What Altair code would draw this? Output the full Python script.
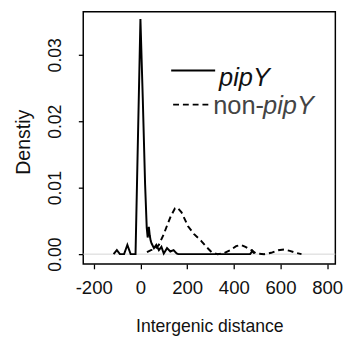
import altair as alt
import pandas as pd

# pipY density curve (solid)
pip_x = [-115, -101, -88, -70, -56, -42, -21, 0, 10, 20, 27, 31, 36, 40, 44, 48, 58, 68,
         79, 90, 100, 114, 128, 142, 155, 162, 470, 480, 487]
pip_y = [0.0, 0.0006, 0.0, 0.0, 0.0014, 0.0, 0.0, 0.0354, 0.0235, 0.0105, 0.0040, 0.0025,
         0.0041, 0.0028, 0.0020, 0.0016, 0.0009, 0.0014, 0.0006, 0.0011, 0.0001, 0.0009,
         0.0004, 0.0006, 0.0001, 0.0, 0.0, 0.0005, 0.0001]

# non-pipY density curve (dashed)
non_x = [28, 45, 60, 79, 100, 114, 130, 148, 158, 176, 204, 230, 260, 285, 305, 330, 355,
         385, 410, 430, 450, 475, 495, 530, 560, 590, 615, 640, 665, 690]
non_y = [0.0003, 0.0006, 0.0007, 0.0014, 0.0030, 0.0043, 0.0057, 0.0069, 0.0070, 0.0063,
         0.0042, 0.0030, 0.0020, 0.0010, 0.0003, 0.0, 0.0001, 0.0006, 0.0012, 0.0014,
         0.0011, 0.0006, 0.0001, 0.0, 0.0002, 0.0006, 0.0007, 0.0005, 0.0002, 0.0]

x_ticks = [-200, 0, 200, 400, 600, 800]
y_ticks = [0.0, 0.01, 0.02, 0.03]

FONT = "Liberation Sans"

pip_df = pd.DataFrame({"x": pip_x, "y": pip_y, "i": range(len(pip_x))})
non_df = pd.DataFrame({"x": non_x, "y": non_y, "i": range(len(non_x))})

xs = alt.Scale(domain=[-245, 835], nice=False, zero=False)
ys = alt.Scale(domain=[-0.00147, 0.03647], nice=False, zero=False)

x_axis = alt.Axis(values=x_ticks, labelExpr="'' + datum.value", title="Intergenic distance",
                  labelFontSize=19, titleFontSize=18, titleFontWeight="normal",
                  tickSize=5, tickColor="black", tickWidth=1.3, domain=False, grid=False,
                  labelPadding=10, labelColor="#111", titleColor="#111",
                  titleY=69, titleBaseline="alphabetic", labelFont=FONT, titleFont=FONT)
y_axis = alt.Axis(values=y_ticks, format=".2f", title="Denstiy",
                  labelFontSize=18, titleFontSize=20, titleFontWeight="normal",
                  tickSize=5, tickColor="black", tickWidth=1.3, domain=False, grid=False,
                  labelAngle=270, labelAlign="center", labelBaseline="bottom",
                  labelPadding=14, labelColor="#111", titleColor="#111",
                  titleX=-55, titleY=133, titleAngle=270, titleAlign="center",
                  titleBaseline="alphabetic", labelFont=FONT, titleFont=FONT)

zero = alt.Chart(pd.DataFrame({"y": [0.0]})).mark_rule(color="#d4d4d4", strokeWidth=1).encode(
    y=alt.Y("y:Q", scale=ys, axis=y_axis))

pip_line = alt.Chart(pip_df).mark_line(color="black", strokeWidth=2).encode(
    x=alt.X("x:Q", scale=xs, axis=x_axis),
    y=alt.Y("y:Q", scale=ys),
    order="i:Q")

non_line = alt.Chart(non_df).mark_line(color="black", strokeWidth=2, strokeDash=[6, 4]).encode(
    x=alt.X("x:Q", scale=xs),
    y=alt.Y("y:Q", scale=ys),
    order="i:Q")

leg_src = pd.DataFrame({"k": [0]})
leg_solid = alt.Chart(leg_src).mark_rule(color="black", strokeWidth=2).encode(
    x=alt.value(90), x2=alt.value(135), y=alt.value(60))
leg_dash = alt.Chart(leg_src).mark_rule(color="black", strokeWidth=2, strokeDash=[6, 4]).encode(
    x=alt.value(92), x2=alt.value(128), y=alt.value(95))
leg_t1 = alt.Chart(leg_src).mark_text(text="pipY", fontStyle="italic", fontSize=26, font=FONT,
                                      align="left", baseline="alphabetic", color="#111").encode(
    x=alt.value(139), y=alt.value(76))
leg_t2 = alt.Chart(leg_src).mark_text(text="non-", fontSize=26, font=FONT,
                                      align="left", baseline="alphabetic", color="#444").encode(
    x=alt.value(133), y=alt.value(105))
leg_t3 = alt.Chart(leg_src).mark_text(text="pipY", fontStyle="italic", fontSize=26, font=FONT,
                                      align="left", baseline="alphabetic", color="#444").encode(
    x=alt.value(184), y=alt.value(105))

chart = alt.layer(zero, pip_line, non_line, leg_solid, leg_dash, leg_t1, leg_t2, leg_t3).properties(
    width=258, height=258,
    autosize=alt.AutoSizeParams(type="none"),
    padding={"left": 77, "top": 0, "right": 15, "bottom": 75},
    background="white",
).configure_view(stroke="black", strokeWidth=1.5)

chart.save("out.html", embed_options={"renderer": "svg", "actions": False})
